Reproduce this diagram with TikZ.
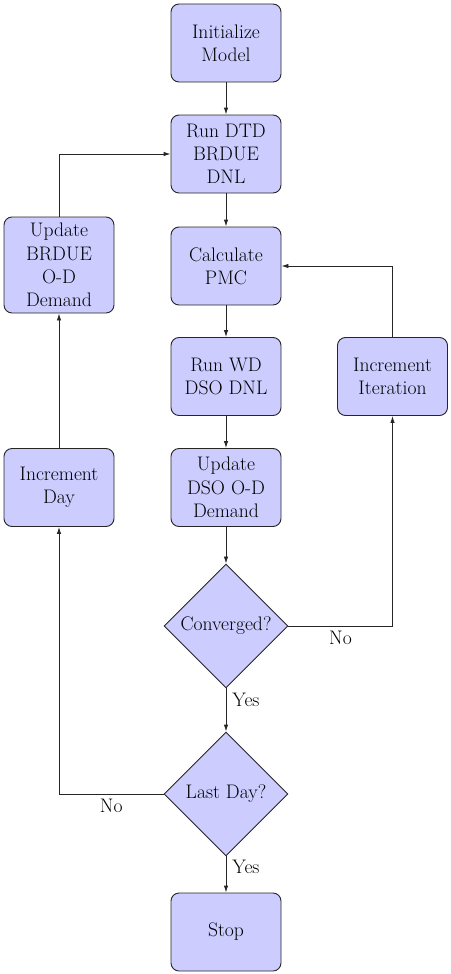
\documentclass[tikz,border=0pt]{standalone}
\usetikzlibrary{shapes.geometric,arrows.meta}
\begin{document}
\begin{tikzpicture}[x=1pt,y=-1pt,
  txt/.style={font=\fontsize{19.6}{23.3}\selectfont},
  stepbox/.style={txt,draw=black!85,fill=blue!20,rounded corners=8pt,minimum width=110pt,minimum height=78pt,align=center,line width=0.9pt,inner sep=2pt},
  decide/.style={txt,draw=black!85,fill=blue!20,diamond,aspect=1,minimum size=124pt,inner sep=0pt,line width=0.9pt},
  arr/.style={-{Latex[length=7pt,width=4.5pt]},draw=black!85,line width=0.9pt},
  lbl/.style={txt,inner sep=6pt}]
\useasboundingbox (0,0) rectangle (450,974);
\node[stepbox] (init) at (226,43) {Initialize\\Model};
\node[stepbox] (dtd) at (226,154) {Run DTD\\BRDUE\\DNL};
\node[stepbox] (pmc) at (226,266) {Calculate\\PMC};
\node[stepbox] (wd) at (226,376.5) {Run WD\\DSO DNL};
\node[stepbox] (dso) at (226,487.5) {Update\\DSO O-D\\Demand};
\node[decide] (conv) at (226,626) {Converged?};
\node[decide] (last) at (226,794) {Last Day?};
\node[stepbox] (stop) at (226,932) {Stop};
\node[stepbox] (iter) at (392.5,376.5) {Increment\\Iteration};
\node[stepbox,minimum height=96pt] (ubr) at (59,265) {Update\\BRDUE\\O-D\\Demand};
\node[stepbox] (iday) at (59,487.5) {Increment\\Day};
\draw[arr] (init) -- (dtd);
\draw[arr] (dtd) -- (pmc);
\draw[arr] (pmc) -- (wd);
\draw[arr] (wd) -- (dso);
\draw[arr] (dso) -- (conv);
\draw[arr] (conv) -- node[lbl,right,pos=0.27]{Yes} (last);
\draw[arr] (last) -- node[lbl,right,pos=0.29]{Yes} (stop);
\draw[arr] (conv.east) -| node[lbl,below,pos=0.25,inner sep=5pt]{No} (iter.south);
\draw[arr] (iter.north) |- (pmc.east);
\draw[arr] (last.west) -| node[lbl,below,pos=0.25,inner sep=5pt]{No} (iday.south);
\draw[arr] (iday) -- (ubr);
\draw[arr] (ubr.north) |- (dtd.west);
\end{tikzpicture}
\end{document}
